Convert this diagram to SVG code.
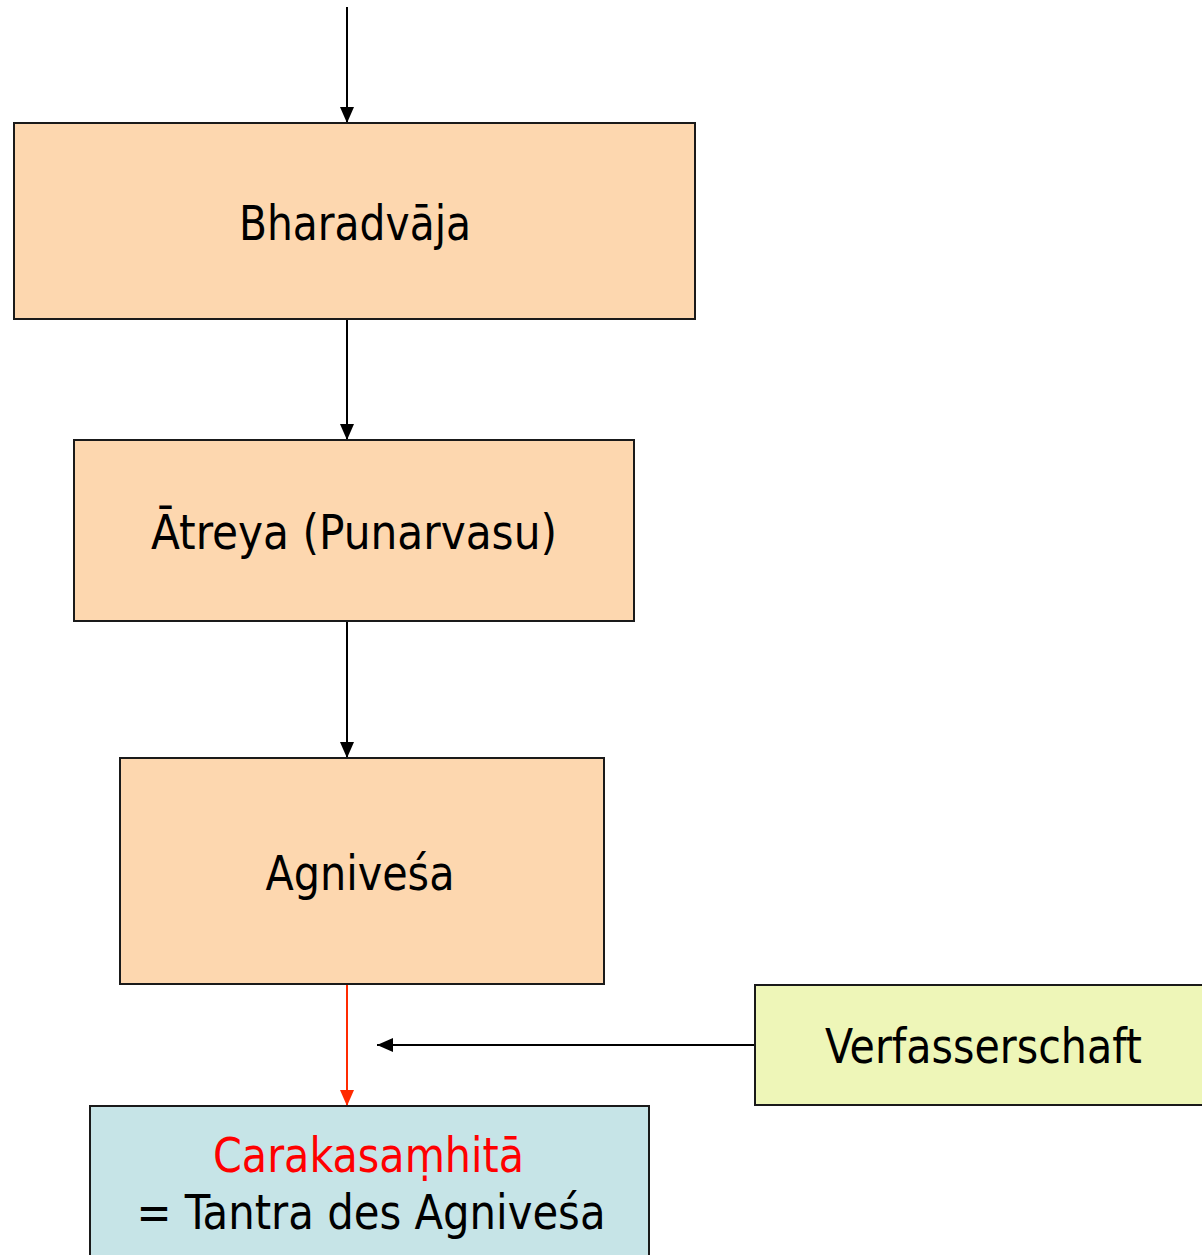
<svg xmlns="http://www.w3.org/2000/svg" width="1202" height="1255" viewBox="0 0 1202 1255">
<style>
.box{stroke:#1a1a1a;stroke-width:2}
.peach{fill:#FDD7AF}
.blue{fill:#C6E4E7}
.yel{fill:#EEF6B8}
.t{font-family:"DejaVu Sans Condensed","DejaVu Sans",sans-serif;font-size:48px;fill:#000;text-anchor:middle}
.red{fill:#FF0000}
.ln{stroke:#000;stroke-width:2;fill:none}
.lnr{stroke:#FF2A00;stroke-width:2;fill:none}
</style>
<defs>
<marker id="ah" markerWidth="16" markerHeight="16" viewBox="0 0 16 16" refX="16" refY="8" orient="auto" markerUnits="userSpaceOnUse"><path d="M0,1 L16,8 L0,15 Z" fill="#000"/></marker>
<marker id="ahr" markerWidth="16" markerHeight="16" viewBox="0 0 16 16" refX="16" refY="8" orient="auto" markerUnits="userSpaceOnUse"><path d="M0,1 L16,8 L0,15 Z" fill="#FF2A00"/></marker>
</defs>
<rect width="1202" height="1255" fill="#fff"/>
<g id="connectors">
<line class="ln" x1="347" y1="7" x2="347" y2="123" marker-end="url(#ah)"/>
<line class="ln" x1="347" y1="320" x2="347" y2="440" marker-end="url(#ah)"/>
<line class="ln" x1="347" y1="622" x2="347" y2="758" marker-end="url(#ah)"/>
<line class="lnr" x1="347" y1="985" x2="347" y2="1106" marker-end="url(#ahr)"/>
<line class="ln" x1="755" y1="1045" x2="377" y2="1045" marker-end="url(#ah)"/>
</g>
<g id="bharadvaja">
<rect class="box peach" x="14" y="123" width="681" height="196"/>
<text class="t" x="355" y="240" textLength="232" lengthAdjust="spacingAndGlyphs">Bharadvāja</text>
</g>
<g id="atreya">
<rect class="box peach" x="74" y="440" width="560" height="181"/>
<text class="t" x="354" y="549" textLength="406" lengthAdjust="spacingAndGlyphs">Ātreya (Punarvasu)</text>
</g>
<g id="agnivesa">
<rect class="box peach" x="120" y="758" width="484" height="226"/>
<text class="t" x="360" y="890" textLength="189" lengthAdjust="spacingAndGlyphs">Agniveśa</text>
</g>
<g id="verfasserschaft">
<rect class="box yel" x="755" y="985" width="460" height="120"/>
<text class="t" x="983.5" y="1063" textLength="317" lengthAdjust="spacingAndGlyphs">Verfasserschaft</text>
</g>
<g id="carakasamhita">
<rect class="box blue" x="90" y="1106" width="559" height="170"/>
<text class="t red" x="368.5" y="1172" textLength="311" lengthAdjust="spacingAndGlyphs">Carakasaṃhitā</text>
<text class="t" x="371" y="1229" textLength="469" lengthAdjust="spacingAndGlyphs">= Tantra des Agniveśa</text>
</g>
</svg>
